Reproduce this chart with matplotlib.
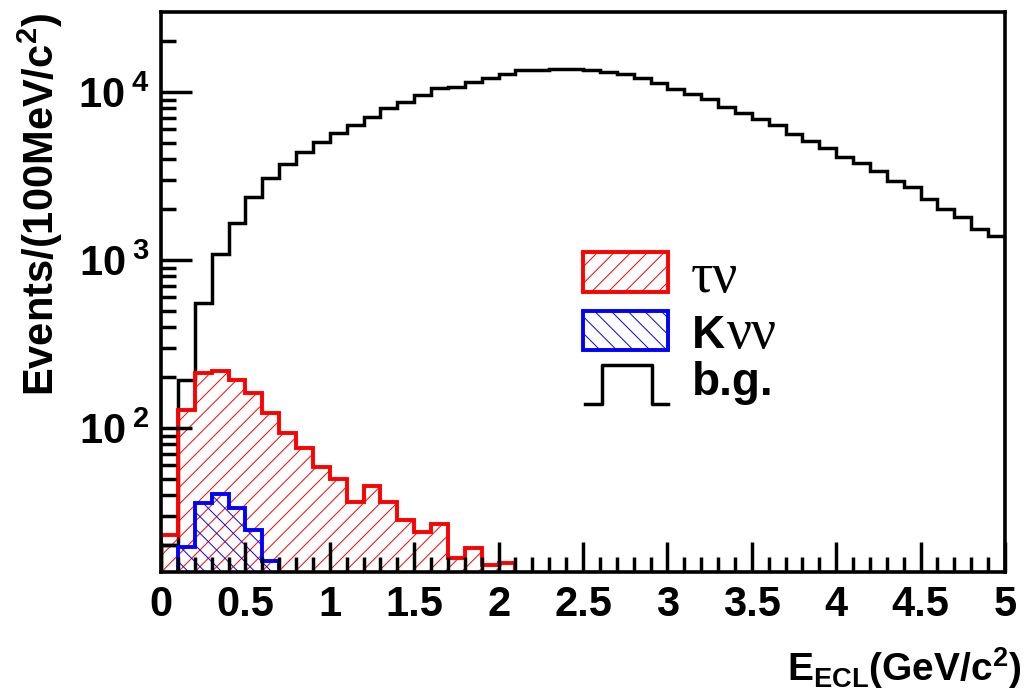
import numpy as np
import matplotlib
matplotlib.use('Agg')
import matplotlib.pyplot as plt
from matplotlib.patches import Rectangle
from matplotlib.ticker import FuncFormatter, LogLocator, MultipleLocator

plt.rcParams['font.family'] = ['Liberation Sans', 'DejaVu Sans']
plt.rcParams['font.weight'] = 'bold'
plt.rcParams['mathtext.fontset'] = 'custom'
plt.rcParams['mathtext.rm'] = 'Liberation Sans:bold'
plt.rcParams['mathtext.it'] = 'Liberation Sans:bold'
plt.rcParams['mathtext.bf'] = 'Liberation Sans:bold'
plt.rcParams['hatch.linewidth'] = 0.7

# histogram binning: 0.1 GeV bins from 0 to 5
bin_width = 0.1

# background (b.g.), 50 bins from 0 to 5
bg = [20, 193, 555, 1090, 1670, 2360, 3060, 3710, 4420, 5020,
      5730, 6340, 7070, 8000, 8710, 9600, 10600, 10770, 11430, 12070,
      12750, 13460, 13460, 13710, 13710, 13500, 13220, 12750, 12170, 11270,
      10470, 9730, 9040, 8180, 7460, 6900, 6340, 5650, 5110, 4660,
      4120, 3790, 3400, 2940, 2710, 2310, 2010, 1790, 1530, 1380]

# tau nu signal, bins from 0 to 2.1
taunu = [23, 128, 212, 219, 193, 161, 122, 93, 76, 59,
         49.5, 36.4, 45.4, 36.4, 28.3, 24.1, 26.8, 16.8, 19.4, 15.3, 15.8]

# K nu nu signal, bins from 0.1 to 0.7
knunu = [19.5, 35.6, 40.3, 33.3, 24.7, 16.1]
knunu_start = 0.1

edges_bg = np.arange(len(bg) + 1) * bin_width
edges_tau = np.arange(len(taunu) + 1) * bin_width
edges_k = knunu_start + np.arange(len(knunu) + 1) * bin_width

fig = plt.figure(figsize=(10.24, 6.94), dpi=100)
ax = fig.add_axes([161 / 1024, 1 - 572 / 694, 844 / 1024, 560 / 694])

ax.stairs(bg, edges_bg, baseline=1, color='black', linewidth=2.5, zorder=1)
ax.stairs(taunu, edges_tau, baseline=1, fill=True, facecolor='none',
          edgecolor='red', hatch='//', linewidth=2.8, zorder=1.2)
ax.stairs(knunu, edges_k, baseline=1, fill=True, facecolor='none',
          edgecolor='blue', hatch='\\\\', linewidth=2.8, zorder=1.4)

ax.set_yscale('log')
ax.set_xlim(0, 5)
ax.set_ylim(13.9, 29900)
ax.set_axisbelow(False)

ax.xaxis.set_major_locator(MultipleLocator(0.5))
ax.xaxis.set_minor_locator(MultipleLocator(0.1))
ax.xaxis.set_major_formatter(FuncFormatter(lambda v, p: '%g' % v))
ax.yaxis.set_major_locator(LogLocator(base=10, numticks=10))
ax.yaxis.set_minor_locator(LogLocator(base=10, subs=np.arange(2, 10), numticks=20))
ax.yaxis.set_minor_formatter(FuncFormatter(lambda v, p: ''))
ax.yaxis.set_major_formatter(
    FuncFormatter(lambda v, p: r'$\mathbf{10^{\;%d}}$' % round(np.log10(v))))

for s in ax.spines.values():
    s.set_linewidth(2.6)
ax.tick_params(axis='both', which='both', direction='in', top=False, right=False)
ax.tick_params(axis='x', which='major', length=21.5, width=2.5, labelsize=30, pad=9)
ax.tick_params(axis='x', which='minor', length=10.8, width=2.5)
ax.tick_params(axis='y', which='major', length=22, width=2.5, labelsize=30, pad=8)
ax.tick_params(axis='y', which='minor', length=10.8, width=2.5)

# axis titles
fig.text(40 / 1024, 1 - 13 / 694, r'Events/(100MeV/c$^{2}$)', rotation=90,
         ha='center', va='top', fontsize=30, fontweight='bold')
fig.text(1021 / 1024, 3 / 694, r'E$_{ECL}$(GeV/c$^{2}$)',
         ha='right', va='bottom', fontsize=28, fontweight='bold')

# legend
tr = ax.transAxes
ax.add_patch(Rectangle((0.500, 0.500), 0.1007, 0.0714, transform=tr,
                       facecolor='none', edgecolor='red', hatch='//', linewidth=2.8))
ax.add_patch(Rectangle((0.500, 0.396), 0.1007, 0.0700, transform=tr,
                       facecolor='none', edgecolor='blue', hatch='\\\\', linewidth=2.8))
ax.plot([0.5024, 0.5225, 0.5225, 0.5818, 0.5818, 0.6007],
        [0.300, 0.300, 0.3696, 0.3696, 0.300, 0.300],
        transform=tr, color='black', linewidth=2.5, clip_on=False)
ax.text(0.6277, 0.500, 'τν', transform=tr, fontsize=40, fontweight='normal',
        family='Liberation Serif', va='baseline', ha='left')
ax.text(0.6290, 0.400, 'K', transform=tr, fontsize=33, fontweight='bold',
        va='baseline', ha='left')
ax.text(0.6700, 0.400, 'νν', transform=tr, fontsize=40, fontweight='normal',
        family='Liberation Serif', va='baseline', ha='left')
ax.text(0.6290, 0.316, 'b.g.', transform=tr, fontsize=33, fontweight='bold',
        va='baseline', ha='left')

fig.savefig('out.png', dpi=100)
